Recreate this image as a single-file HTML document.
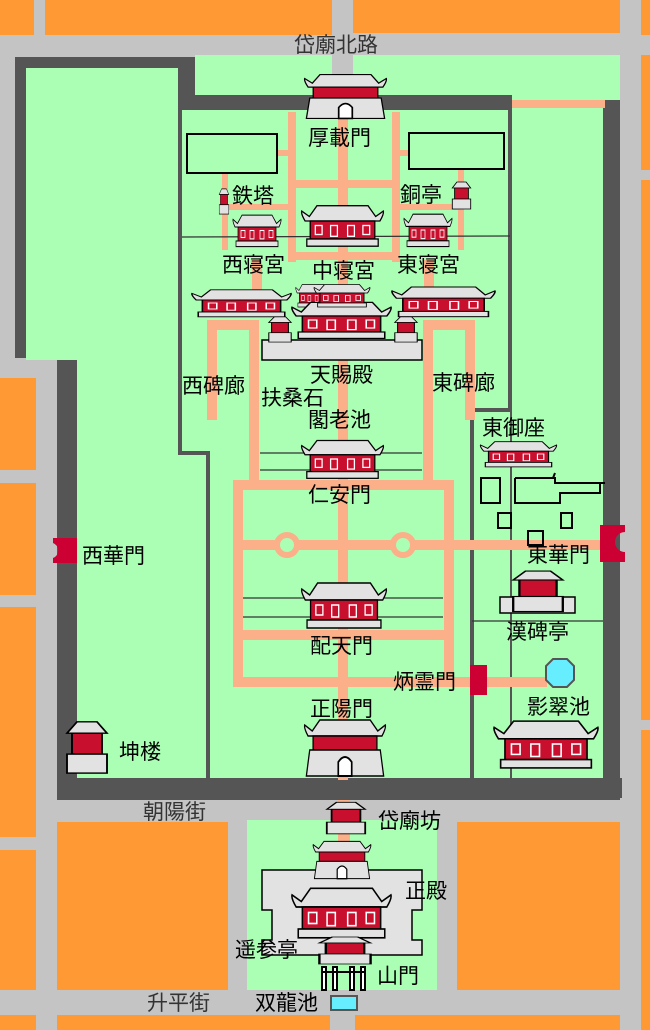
<!DOCTYPE html>
<html><head><meta charset="utf-8"><style>
html,body{margin:0;padding:0;width:650px;height:1030px;overflow:hidden;background:#c4c4c4}
svg{display:block}
text{font-family:"Liberation Sans","Noto Sans CJK JP",sans-serif;font-size:21px;fill:#000}
.rd{fill:#333}
</style></head><body>
<svg width="650" height="1030" viewBox="0 0 650 1030" xmlns="http://www.w3.org/2000/svg">
<defs>
<symbol id="hall" viewBox="0 0 100 50" preserveAspectRatio="none">
<path d="M6 20 Q1 12 2 9 L11 15 L20 3 L80 3 L89 15 L98 9 Q99 12 94 20 Z" fill="#e2e2e2" stroke="#000" stroke-width="1.5"/>
<rect x="12" y="20" width="76" height="20" fill="#c8102e" stroke="#000" stroke-width="1.5"/>
<rect x="18" y="25" width="8" height="10" fill="none" stroke="#fff" stroke-width="1.5"/>
<rect x="36" y="25" width="8" height="12" fill="none" stroke="#fff" stroke-width="1.5"/>
<rect x="56" y="25" width="8" height="12" fill="none" stroke="#fff" stroke-width="1.5"/>
<rect x="74" y="25" width="8" height="10" fill="none" stroke="#fff" stroke-width="1.5"/>
<rect x="8" y="40" width="84" height="8" fill="#e2e2e2" stroke="#000" stroke-width="1.5"/>
</symbol>
<symbol id="gate" viewBox="0 0 100 60" preserveAspectRatio="none">
<path d="M6 18 Q1 10 2 7 L11 13 L20 2 L80 2 L89 13 L98 7 Q99 10 94 18 Z" fill="#e2e2e2" stroke="#000" stroke-width="1.5"/>
<rect x="12" y="18" width="76" height="14" fill="#c8102e" stroke="#000" stroke-width="1.5"/>
<path d="M8 32 L92 32 L96 58 L4 58 Z" fill="#e2e2e2" stroke="#000" stroke-width="1.5"/>
<path d="M42 58 L42 44 Q50 34 58 44 L58 58 Z" fill="#fff" stroke="#000" stroke-width="2"/>
</symbol>
<symbol id="tower" viewBox="0 0 40 60" preserveAspectRatio="none">
<path d="M4 16 L12 4 L28 4 L36 16 Z" fill="#e2e2e2" stroke="#000" stroke-width="1.5"/>
<rect x="8" y="16" width="24" height="22" fill="#c8102e" stroke="#000" stroke-width="1.5"/>
<rect x="4" y="38" width="32" height="20" fill="#e2e2e2" stroke="#000" stroke-width="1.5"/>
</symbol>
</defs>

<g fill="#ff9933">
<rect x="0" y="0" width="34" height="35"/>
<rect x="45" y="0" width="287" height="35"/>
<rect x="353" y="0" width="267" height="33"/>
<rect x="641" y="0" width="9" height="35"/>
<rect x="641" y="55" width="9" height="115"/>
<rect x="641" y="180" width="9" height="540"/>
<rect x="641" y="730" width="9" height="300"/>
<rect x="0" y="378" width="36" height="92"/>
<rect x="0" y="483" width="36" height="112"/>
<rect x="0" y="607" width="36" height="230"/>
<rect x="0" y="850" width="36" height="140"/>
<rect x="57" y="822" width="171" height="168"/>
<rect x="457" y="822" width="163" height="168"/>
<rect x="57" y="1015" width="273" height="15"/>
<rect x="355" y="1015" width="265" height="15"/>
<rect x="0" y="1015" width="36" height="15"/>
</g>

<rect x="195" y="55" width="425" height="50" fill="#aaffb4"/>
<path d="M15 57 H195 V95 H512 V100 H620 V800 H57 V358 H15 Z" fill="#555"/>
<path d="M26 68 H178 V360 H26 Z" fill="#aaffb4"/>
<rect x="77" y="358" width="131" height="420" fill="#aaffb4"/>
<rect x="77" y="110" width="101" height="270" fill="#aaffb4"/>
<rect x="182" y="110" width="328" height="668" fill="#aaffb4"/>
<rect x="512" y="107" width="91" height="671" fill="#aaffb4"/>
<rect x="247" y="820" width="190" height="170" fill="#aaffb4"/>
<rect x="332" y="35" width="21" height="45" fill="#c4c4c4"/>

<g stroke="#555" stroke-width="4" fill="none">
<path d="M180 110 V453 H208 V778"/>
<path d="M510 110 V410 H472 V778"/>
</g>
<path d="M180 95 H512 V110 H180 Z" fill="#555"/>
<rect x="57" y="778" width="565" height="20" fill="#555"/>

<g fill="#fbb08a">
<rect x="512" y="100" width="93" height="8"/>
<rect x="338" y="110" width="10" height="670"/>
<rect x="288" y="112" width="8" height="150"/>
<rect x="392" y="112" width="8" height="150"/>
<rect x="288" y="180" width="112" height="8"/>
<rect x="288" y="252" width="112" height="8"/>
<rect x="277" y="150" width="11" height="6"/>
<rect x="400" y="150" width="10" height="6"/>
<rect x="222" y="172" width="6" height="78"/>
<rect x="228" y="204" width="60" height="6"/>
<rect x="458" y="168" width="6" height="82"/>
<rect x="400" y="204" width="58" height="6"/>
<rect x="252" y="260" width="10" height="30"/>
<rect x="424" y="260" width="10" height="30"/>
<rect x="207" y="320" width="10" height="100"/>
<rect x="249" y="320" width="10" height="170"/>
<rect x="207" y="320" width="52" height="10"/>
<rect x="423" y="320" width="10" height="170"/>
<rect x="465" y="320" width="10" height="100"/>
<rect x="423" y="320" width="52" height="10"/>
<rect x="233" y="480" width="220" height="10"/>
<rect x="233" y="480" width="10" height="207"/>
<rect x="444" y="480" width="10" height="207"/>
<rect x="233" y="677" width="240" height="10"/>
<rect x="487" y="677" width="60" height="10"/>
<rect x="233" y="540" width="370" height="10"/>
<rect x="233" y="630" width="220" height="10"/>
<rect x="338" y="800" width="12" height="60"/>
</g>
<g fill="#aaffb4" stroke="#fbb08a" stroke-width="6">
<circle cx="287" cy="545" r="10"/>
<circle cx="403" cy="545" r="10"/>
</g>

<g stroke="#333" stroke-width="1.3">
<line x1="182" y1="237" x2="510" y2="236"/>
<line x1="260" y1="453" x2="422" y2="453"/>
<line x1="260" y1="470" x2="422" y2="470"/>
<line x1="243" y1="598" x2="443" y2="598"/>
<line x1="243" y1="617" x2="443" y2="617"/>
<line x1="472" y1="621" x2="603" y2="621"/>
</g>

<g fill="none" stroke="#000" stroke-width="2">
<rect x="187" y="134" width="90" height="39"/>
<rect x="409" y="133" width="95" height="36"/>
<rect x="481" y="478" width="19" height="25"/>
<path d="M515 478 H555 V483 H605 M553 478 L555 473 M515 478 V503 H560 V493 H600 V483"/>
<rect x="498" y="513" width="13" height="15"/>
<rect x="561" y="513" width="11" height="15"/>
<rect x="528" y="531" width="15" height="14"/>
</g>

<use href="#gate" x="303" y="73" width="85" height="47"/>
<use href="#hall" x="300" y="203" width="85" height="45"/>
<use href="#hall" x="232" y="213" width="50" height="35"/>
<use href="#hall" x="403" y="212" width="50" height="36"/>
<use href="#tower" x="218" y="187" width="12" height="28"/>
<use href="#tower" x="450" y="180" width="23" height="30"/>
<rect x="262" y="340" width="160" height="20" fill="#e2e2e2" stroke="#000" stroke-width="1.5"/>
<use href="#hall" x="190" y="288" width="103" height="30"/>
<use href="#hall" x="390" y="285" width="107" height="33"/>
<use href="#tower" x="266" y="315" width="28" height="28"/>
<use href="#tower" x="392" y="315" width="28" height="28"/>
<use href="#hall" x="295" y="283" width="36" height="25"/>
<use href="#hall" x="290" y="300" width="103" height="40"/>
<use href="#hall" x="313" y="283" width="58" height="25"/>
<use href="#hall" x="300" y="438" width="85" height="42"/>
<use href="#hall" x="300" y="580" width="88" height="50"/>
<use href="#gate" x="303" y="718" width="84" height="60"/>
<use href="#hall" x="479" y="440" width="79" height="28"/>
<rect x="500" y="597" width="75" height="16" fill="#e2e2e2" stroke="#000" stroke-width="1.5"/>
<use href="#tower" x="507" y="568" width="62" height="45"/>
<use href="#hall" x="492" y="718" width="108" height="52"/>
<use href="#tower" x="62" y="718" width="50" height="57"/>
<path d="M53 538 H77 V563 H53 V558 A8 8 0 0 0 53 543 Z" fill="#cc0033"/>
<path d="M600 525 H625 V532 A10 10 0 0 0 625 552 V562 H600 Z" fill="#cc0033"/>
<rect x="470" y="665" width="17" height="30" fill="#cc0033"/>
<polygon points="553,659 567,659 574,666 574,680 567,687 553,687 546,680 546,666" fill="#66eeff" stroke="#555" stroke-width="2"/>
<use href="#tower" x="322" y="800" width="48" height="35"/>
<path d="M262 870 H422 V910 H412 V940 H422 V955 H262 V940 H272 V910 H262 Z" fill="#e2e2e2" stroke="#000" stroke-width="1.5"/>
<use href="#gate" x="312" y="840" width="60" height="40"/>
<use href="#hall" x="290" y="885" width="103" height="55"/>
<use href="#tower" x="313" y="935" width="64" height="30"/>
<g stroke="#000" stroke-width="2" fill="#fff"><rect x="322" y="967" width="4" height="23"/><rect x="333" y="967" width="4" height="23"/><rect x="350" y="967" width="4" height="23"/><rect x="361" y="967" width="4" height="23"/><line x1="322" y1="972" x2="365" y2="972"/></g>
<rect x="331" y="996" width="26" height="14" fill="#66eeff" stroke="#555" stroke-width="2"/>

<text class="rd" x="294" y="52">岱廟北路</text>
<text class="rd" x="143" y="819">朝陽街</text>
<text class="rd" x="147" y="1010">升平街</text>
<text x="255" y="1010">双龍池</text>
<text x="308" y="145">厚載門</text>
<text x="232" y="203">鉄塔</text>
<text x="400" y="202">銅亭</text>
<text x="222" y="272">西寝宮</text>
<text x="312" y="278">中寝宮</text>
<text x="397" y="272">東寝宮</text>
<text x="310" y="382">天賜殿</text>
<text x="182" y="393">西碑廊</text>
<text x="261" y="405">扶桑石</text>
<text x="432" y="390">東碑廊</text>
<text x="308" y="427">閣老池</text>
<text x="482" y="435">東御座</text>
<text x="308" y="502">仁安門</text>
<text x="82" y="563">西華門</text>
<text x="527" y="562">東華門</text>
<text x="506" y="639">漢碑亭</text>
<text x="310" y="653">配天門</text>
<text x="393" y="689">炳霊門</text>
<text x="527" y="714">影翠池</text>
<text x="310" y="716">正陽門</text>
<text x="119" y="759">坤楼</text>
<text x="378" y="828">岱廟坊</text>
<text x="405" y="898">正殿</text>
<text x="235" y="957">遥参亭</text>
<text x="377" y="983">山門</text>
</svg>
</body></html>
